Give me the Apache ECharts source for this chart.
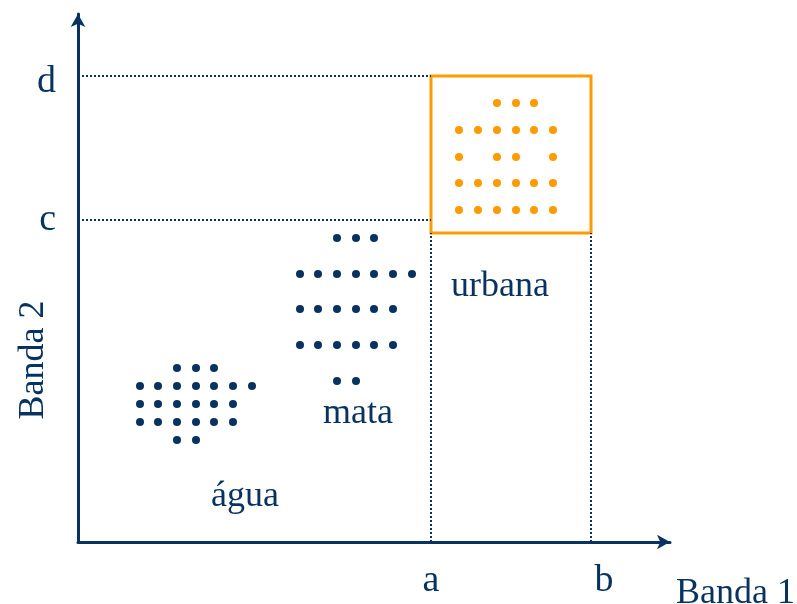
<!DOCTYPE html>
<html>
<head>
<meta charset="utf-8">
<script src="https://cdn.jsdelivr.net/npm/echarts@6/dist/echarts.min.js"></script>
<style>
  html, body { margin: 0; padding: 0; background: #fff; }
  #chart { width: 797px; height: 604px; }
</style>
</head>
<body>
<div id="chart"></div>
<script>
// limites das classes (unidades arbitrárias ao longo de cada banda)
var limX = [353, 513];       // a, b
var limY = [322, 466];       // c, d
var nomesX = ['a', 'b'];
var nomesY = ['c', 'd'];
var caixaUrbana = [[353, 309], [513, 466]];

// pixels de cada classe (banda 1, banda 2)
var aguaPts = [
  [99, 174], [118, 174], [136, 174],
  [62, 156], [80, 156], [99, 156], [118, 156], [136, 156], [155, 156], [174, 156],
  [62, 138], [80, 138], [99, 138], [118, 138], [136, 138], [155, 138],
  [62, 120], [80, 120], [99, 120], [118, 120], [136, 120], [155, 120],
  [99, 102], [118, 102]
];
var mataPts = [
  [259, 304], [278, 304], [296, 304],
  [222, 268], [240, 268], [259, 268], [278, 268], [296, 268], [315, 268], [334, 268],
  [222, 233], [240, 233], [259, 233], [278, 233], [296, 233], [315, 233],
  [222, 197], [240, 197], [259, 197], [278, 197], [296, 197], [315, 197],
  [259, 161], [278, 161]
];
var urbanaPts = [
  [419, 439], [438, 439], [456, 439],
  [381, 412], [400, 412], [419, 412], [438, 412], [456, 412], [475, 412],
  [381, 385], [419, 385], [438, 385], [475, 385],
  [381, 359], [400, 359], [419, 359], [438, 359], [456, 359], [475, 359],
  [381, 332], [400, 332], [419, 332], [438, 332], [456, 332], [475, 332]
];
var rotulos = [
  { name: 'água', value: [167, 45] },
  { name: 'mata', value: [280, 128] },
  { name: 'urbana', value: [422, 255] }
];

var azul = '#08325f';
var laranja = '#ff9b00';
var fonte = "'Liberation Serif', 'Times New Roman', serif";

var chart = echarts.init(document.getElementById('chart'));

var option = {
  backgroundColor: '#fff',
  animation: false,
  grid: { left: 78, right: 127, top: 14, bottom: 62, outerBoundsMode: 'none', containLabel: false },
  xAxis: {
    type: 'value', min: 0, max: 592,
    name: 'Banda 1',
    nameLocation: 'end',
    nameGap: 6,
    nameMoveOverlap: false,
    nameTextStyle: {
      color: azul, fontFamily: fonte, fontSize: 36,
      align: 'left', verticalAlign: 'top', padding: [34, 0, 0, 0]
    },
    axisLine: {
      lineStyle: { color: azul, width: 3 },
      symbol: ['none', 'arrow'], symbolSize: [11, 13]
    },
    axisTick: { show: false },
    splitLine: { show: false },
    axisLabel: {
      customValues: limX,
      formatter: function (v) {
        var i = limX.indexOf(v);
        return i === 1 ? '{b|' + nomesX[i] + '}' : nomesX[i];
      },
      rich: { b: { fontSize: 38, fontFamily: fonte, color: azul, padding: [0, 0, 0, 26] } },
      color: azul, fontFamily: fonte, fontSize: 38, margin: 20
    }
  },
  yAxis: {
    type: 'value', min: 0, max: 528,
    name: 'Banda 2',
    nameLocation: 'middle',
    nameRotate: 90,
    nameGap: 26,
    nameMoveOverlap: false,
    nameTextStyle: {
      color: azul, fontFamily: fonte, fontSize: 36, padding: [0, 164, 0, 0]
    },
    axisLine: {
      lineStyle: { color: azul, width: 3 },
      symbol: ['none', 'arrow'], symbolSize: [11, 13]
    },
    axisTick: { show: false },
    splitLine: { show: false },
    axisLabel: {
      customValues: limY,
      formatter: function (v) {
        var i = limY.indexOf(v);
        return i === 1 ? '{d|' + nomesY[i] + '}' : nomesY[i];
      },
      rich: { d: { fontSize: 38, fontFamily: fonte, color: azul, padding: [12, 0, 0, 0] } },
      color: azul, fontFamily: fonte, fontSize: 38, margin: 22
    }
  },
  series: [
    {
      type: 'scatter', name: 'água', data: aguaPts,
      symbolSize: 8, itemStyle: { color: azul, opacity: 1 }, silent: true
    },
    {
      type: 'scatter', name: 'mata', data: mataPts,
      symbolSize: 8, itemStyle: { color: azul, opacity: 1 }, silent: true
    },
    {
      type: 'scatter', name: 'urbana', data: urbanaPts,
      symbolSize: 8, itemStyle: { color: laranja, opacity: 1 }, silent: true,
      markArea: {
        silent: true,
        itemStyle: { color: 'rgba(0,0,0,0)', borderColor: laranja, borderWidth: 3, opacity: 1 },
        data: [[{ coord: caixaUrbana[0] }, { coord: caixaUrbana[1] }]]
      },
      markLine: {
        silent: true,
        symbol: ['none', 'none'],
        label: { show: false },
        lineStyle: { color: azul, type: 'dotted', width: 2, opacity: 1 },
        data: [
          [{ coord: [0, limY[1]] }, { coord: [limX[0], limY[1]] }],
          [{ coord: [0, limY[0]] }, { coord: [limX[0], limY[0]] }],
          [{ coord: [limX[0], 0] }, { coord: [limX[0], caixaUrbana[0][1]] }],
          [{ coord: [limX[1], 0] }, { coord: [limX[1], caixaUrbana[0][1]] }]
        ]
      }
    },
    {
      type: 'scatter', name: 'rotulos', data: rotulos,
      symbolSize: 1, itemStyle: { color: 'rgba(0,0,0,0)', opacity: 1 }, silent: true,
      label: {
        show: true, position: 'inside',
        formatter: function (p) { return p.name; },
        color: azul, fontFamily: fonte, fontSize: 36
      }
    }
  ]
};

chart.setOption(option);
</script>
</body>
</html>
